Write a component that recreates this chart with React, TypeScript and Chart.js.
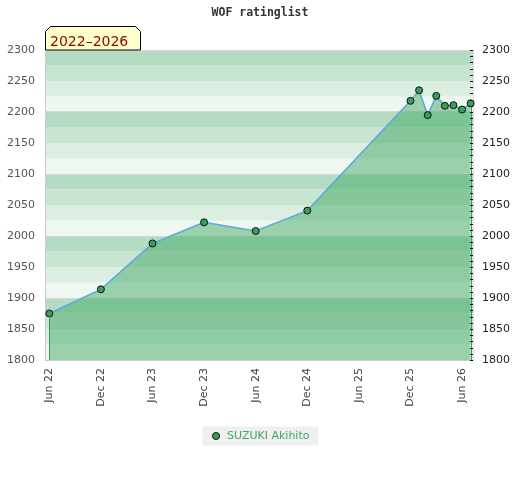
import React, { useEffect, useRef } from 'react';
import { Chart, registerables } from 'chart.js';

Chart.register(...registerables);

const TITLE = 'WOF ratinglist';
const PERIOD_LABEL = '2022–2026';
const PLAYER = 'SUZUKI Akihito';

const DATES = ['2022-06', '2022-12', '2023-06', '2023-12', '2024-06', '2024-12', '2025-12', '2026-01', '2026-02', '2026-03', '2026-04', '2026-05', '2026-06', '2026-07'];
const RATINGS = [1875, 1914, 1988, 2022, 2008, 2041, 2218, 2235, 2195, 2226, 2210, 2211, 2204, 2214];

const X_TICK_DATES = ['2022-06', '2022-12', '2023-06', '2023-12', '2024-06', '2024-12', '2025-06', '2025-12', '2026-06'];
const X_TICK_LABELS = ['Jun 22', 'Dec 22', 'Jun 23', 'Dec 23', 'Jun 24', 'Dec 24', 'Jun 25', 'Dec 25', 'Jun 26'];

const Y_MIN = 1800;
const Y_MAX = 2300;
const Y_STEP = 50;
const Y_MINOR_STEP = 10;
const BAND_STEP = 25;
const X_MIN = -0.5;
const X_MAX = 49.27;

const BAND_COLORS = ['#eff7f1', '#dbeee1', '#c7e5d2', '#b3dcc3'];

const monthIndex = (s: string) => {
  const [y, m] = s.split('-').map(Number);
  return (y - 2022) * 12 + (m - 6);
};

const PAD_BOTTOM = 28.5;

const decorPlugin = {
  id: 'decor',
  beforeDraw(chart: any) {
    const { ctx, chartArea, scales } = chart;
    const y = scales.y;
    ctx.save();
    for (let v = Y_MIN; v < Y_MAX; v += BAND_STEP) {
      const top = y.getPixelForValue(v + BAND_STEP);
      const bot = y.getPixelForValue(v);
      ctx.fillStyle = BAND_COLORS[((v % 100) / BAND_STEP) | 0];
      ctx.fillRect(chartArea.left, top, chartArea.right - chartArea.left, bot - top);
    }
    const hb = chart.legend && chart.legend.legendHitBoxes && chart.legend.legendHitBoxes[0];
    if (hb) {
      const cy = hb.top + hb.height / 2;
      ctx.fillStyle = '#efefef';
      ctx.fillRect(hb.left - 8, cy - 9.5, hb.width + 17, 19);
    }
    ctx.restore();
  },
  afterDatasetsDraw(chart: any) {
    const { ctx, chartArea, scales } = chart;
    const x = scales.x;
    const y = scales.y;
    const first = 0;
    const last = DATES.length - 1;
    ctx.save();
    ctx.lineWidth = 1;
    ctx.strokeStyle = '#3a9a55';
    [first, last].forEach((i) => {
      const px = Math.round(x.getPixelForValue(monthIndex(DATES[i]))) + 0.5;
      ctx.beginPath();
      ctx.moveTo(px, y.getPixelForValue(RATINGS[i]));
      ctx.lineTo(px, chartArea.bottom);
      ctx.stroke();
    });
    ctx.restore();
  },
  afterDraw(chart: any) {
    const { ctx, chartArea, scales } = chart;
    const y = scales.y;
    ctx.save();
    // right minor ticks
    ctx.strokeStyle = '#111';
    ctx.lineWidth = 1;
    for (let v = Y_MIN; v <= Y_MAX; v += Y_MINOR_STEP) {
      const py = Math.round(y.getPixelForValue(v)) + 0.5;
      ctx.beginPath();
      ctx.moveTo(chartArea.right - 3, py);
      ctx.lineTo(chartArea.right, py);
      ctx.stroke();
    }
    // period label box
    const x0 = chartArea.left + 0.5;
    const y1 = chartArea.top;
    const w = 95;
    const h = 23.5;
    const c = 5;
    const y0 = y1 - h;
    ctx.beginPath();
    ctx.moveTo(x0, y1);
    ctx.lineTo(x0, y0 + c);
    ctx.lineTo(x0 + c, y0);
    ctx.lineTo(x0 + w - c, y0);
    ctx.lineTo(x0 + w, y0 + c);
    ctx.lineTo(x0 + w, y1);
    ctx.closePath();
    ctx.fillStyle = '#ffffcc';
    ctx.fill();
    ctx.strokeStyle = '#000';
    ctx.stroke();
    ctx.fillStyle = '#990000';
    ctx.font = '14px "DejaVu Sans", sans-serif';
    ctx.textBaseline = 'alphabetic';
    ctx.textAlign = 'left';
    ctx.fillText(PERIOD_LABEL, x0 + 4.5, y1 - 4.5);
    ctx.restore();
  },
};

export default function App() {
  const ref = useRef<HTMLCanvasElement>(null);

  useEffect(() => {
    if (!ref.current) return;
    const tickFont = { family: '"DejaVu Sans", sans-serif', size: 11 };
    const yLabel = (v: any) => String(v);
    const chart = new Chart(ref.current, {
      type: 'line',
      data: {
        datasets: [
          {
            label: PLAYER,
            data: DATES.map((d, i) => ({ x: monthIndex(d), y: RATINGS[i] })),
            borderColor: '#5ea7dd',
            borderWidth: 1.5,
            backgroundColor: 'rgba(60,168,96,0.48)',
            fill: 'start',
            tension: 0,
            pointRadius: 3.5,
            pointBackgroundColor: '#36a05a',
            pointBorderColor: '#111',
            pointBorderWidth: 1,
            yAxisID: 'y',
            clip: false,
          } as any,
        ],
      },
      options: {
        responsive: false,
        animation: false,
        layout: { padding: { left: 0, right: 0, top: 0, bottom: PAD_BOTTOM } },
        plugins: {
          title: {
            display: true,
            text: TITLE,
            color: '#333',
            font: { family: '"DejaVu Sans Mono", monospace', size: 11.5, weight: 'bold', lineHeight: 1.2 },
            padding: { top: 6, bottom: 30.2 },
          },
          legend: {
            position: 'bottom',
            labels: {
              usePointStyle: true,
              pointStyle: 'circle',
              boxWidth: 11,
              boxHeight: 5,
              padding: 10,
              color: '#3daa5f',
              font: { family: '"DejaVu Sans", sans-serif', size: 11 },
              generateLabels: (ch: any) =>
                Chart.defaults.plugins.legend.labels.generateLabels(ch).map((it: any) => ({
                  ...it,
                  fillStyle: '#36a05a',
                  strokeStyle: '#111',
                  lineWidth: 1,
                  pointStyle: 'circle',
                })),
            },
          },
          tooltip: { enabled: false },
        },
        scales: {
          x: {
            type: 'linear',
            min: X_MIN,
            max: X_MAX,
            afterBuildTicks: (s: any) => {
              s.ticks = X_TICK_DATES.map((d) => ({ value: monthIndex(d) }));
            },
            ticks: {
              autoSkip: false,
              minRotation: 90,
              maxRotation: 90,
              padding: 8,
              color: '#444',
              font: tickFont,
              callback: (_v: any, i: number) => X_TICK_LABELS[i],
            },
            grid: { display: false, drawTicks: false },
            border: { color: '#cccccc' },
            afterFit: (s: any) => {
              const lg = s.chart.legend;
              s.height = s.chart.height - PAD_BOTTOM - (lg ? lg.height : 0) - 360;
            },
          },
          y: {
            position: 'left',
            min: Y_MIN,
            max: Y_MAX,
            ticks: { stepSize: Y_STEP, padding: 10, color: '#555', font: tickFont, callback: yLabel },
            grid: {
              drawTicks: false,
              color: (c: any) => (c.tick && c.tick.value % 100 === 0 ? '#d6d6d6' : 'rgba(0,0,0,0)'),
            },
            border: { color: '#cccccc' },
            afterFit: (s: any) => {
              s.width = 45;
            },
          },
          y2: {
            position: 'right',
            min: Y_MIN,
            max: Y_MAX,
            ticks: { stepSize: Y_STEP, padding: 9, color: '#222', font: tickFont, callback: yLabel },
            grid: { drawOnChartArea: false, drawTicks: false },
            border: { color: '#dddddd' },
            afterFit: (s: any) => {
              s.width = 47;
            },
          },
        },
      } as any,
      plugins: [decorPlugin],
    });
    return () => chart.destroy();
  }, []);

  return (
    <div style={{ position: 'fixed', left: 0, top: 0, width: 520, height: 480, background: '#fff' }}>
      <canvas ref={ref} width={520} height={480} />
    </div>
  );
}
